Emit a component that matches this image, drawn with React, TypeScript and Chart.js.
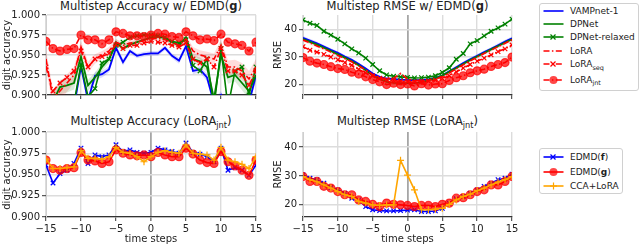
import React, { useEffect, useRef } from "react";
import { Chart, registerables } from "chart.js";

Chart.register(...registerables);

const FONT = "'DejaVu Sans', sans-serif";

const steps = [-15, -14, -13, -12, -11, -10, -9, -8, -7, -6, -5, -4, -3, -2, -1, 0, 1, 2, 3, 4, 5, 6, 7, 8, 9, 10, 11, 12, 13, 14, 15];
const xTicks = [-15, -10, -5, 0, 5, 10, 15];
const accTicks = [0.9, 0.925, 0.95, 0.975, 1.0];
const rmseTicks = [20, 30, 40];

// Panel 1: Multistep Accuracy w/ EDMD(g)
const vampAcc = [0.86, 0.86, 0.87, 0.87, 0.885, 0.936, 0.893, 0.924, 0.926, 0.932, 0.959, 0.941, 0.955, 0.949, 0.951, 0.952, 0.952, 0.959, 0.949, 0.943, 0.961, 0.93, 0.932, 0.922, 0.89, 0.9, 0.88, 0.87, 0.87, 0.89, 0.925];
const vampAccSpread = [0.006, 0.006, 0.006, 0.006, 0.006, 0.005, 0.005, 0.005, 0.004, 0.004, 0.004, 0.004, 0.003, 0.003, 0.003, 0.003, 0.003, 0.003, 0.003, 0.004, 0.004, 0.004, 0.004, 0.005, 0.005, 0.005, 0.005, 0.006, 0.006, 0.006, 0.006];
const dpAcc = [0.885, 0.892, 0.91, 0.912, 0.915, 0.948, 0.912, 0.922, 0.935, 0.945, 0.966, 0.958, 0.963, 0.966, 0.969, 0.972, 0.973, 0.971, 0.966, 0.962, 0.972, 0.945, 0.942, 0.935, 0.895, 0.95, 0.922, 0.925, 0.915, 0.905, 0.925];
const dpAccSpread = [0.01, 0.01, 0.009, 0.009, 0.008, 0.007, 0.007, 0.006, 0.005, 0.005, 0.004, 0.004, 0.003, 0.003, 0.003, 0.003, 0.003, 0.003, 0.003, 0.004, 0.004, 0.005, 0.005, 0.006, 0.007, 0.007, 0.008, 0.008, 0.009, 0.01, 0.01];
const dprAcc = [0.875, 0.868, 0.87, 0.875, 0.89, 0.938, 0.898, 0.908, 0.94, 0.945, 0.962, 0.966, 0.972, 0.974, 0.975, 0.975, 0.974, 0.972, 0.967, 0.965, 0.969, 0.937, 0.93, 0.945, 0.885, 0.958, 0.885, 0.93, 0.935, 0.9, 0.935];
const loraAcc = [0.945, 0.895, 0.905, 0.915, 0.925, 0.96, 0.935, 0.945, 0.95, 0.955, 0.966, 0.962, 0.965, 0.966, 0.968, 0.97, 0.971, 0.969, 0.966, 0.962, 0.97, 0.955, 0.95, 0.948, 0.945, 0.962, 0.935, 0.935, 0.93, 0.92, 0.935];
const loraAccSpread = [0.012, 0.012, 0.012, 0.011, 0.01, 0.008, 0.007, 0.006, 0.005, 0.005, 0.004, 0.004, 0.003, 0.003, 0.003, 0.003, 0.003, 0.003, 0.003, 0.004, 0.004, 0.005, 0.006, 0.006, 0.007, 0.007, 0.008, 0.009, 0.01, 0.01, 0.01];
const loraSeqAcc = [0.935, 0.905, 0.915, 0.922, 0.93, 0.955, 0.935, 0.945, 0.948, 0.952, 0.963, 0.958, 0.962, 0.962, 0.965, 0.967, 0.966, 0.965, 0.962, 0.96, 0.965, 0.945, 0.94, 0.945, 0.935, 0.958, 0.93, 0.93, 0.925, 0.912, 0.93];
const loraJntAcc = [0.967, 0.958, 0.955, 0.957, 0.958, 0.975, 0.969, 0.969, 0.964, 0.969, 0.979, 0.977, 0.974, 0.974, 0.973, 0.975, 0.977, 0.976, 0.973, 0.972, 0.979, 0.974, 0.969, 0.97, 0.968, 0.976, 0.966, 0.964, 0.962, 0.955, 0.966];

// Panel 2: Multistep RMSE w/ EDMD(g)
const vampRmse = [37.0, 36.0, 35.0, 33.8, 32.6, 31.5, 30.2, 29.0, 27.5, 25.8, 24.0, 22.8, 22.2, 22.0, 21.8, 21.6, 21.6, 21.7, 21.9, 22.4, 23.3, 24.8, 26.3, 27.8, 29.2, 30.5, 31.8, 33.0, 34.3, 35.6, 36.8];
const vampRmseSpread = [0.7, 0.7, 0.7, 0.6, 0.6, 0.6, 0.6, 0.5, 0.5, 0.5, 0.5, 0.4, 0.4, 0.4, 0.4, 0.4, 0.4, 0.4, 0.4, 0.4, 0.5, 0.5, 0.5, 0.5, 0.6, 0.6, 0.6, 0.6, 0.7, 0.7, 0.7];
const dpRmse = [36.5, 35.5, 34.5, 33.4, 32.2, 31.0, 29.8, 28.5, 27.0, 25.2, 23.3, 22.0, 21.0, 20.6, 20.5, 20.5, 20.5, 20.8, 21.5, 22.3, 23.3, 24.6, 26.0, 27.5, 28.9, 30.2, 31.5, 32.8, 34.0, 35.3, 36.5];
const dpRmseSpread = [0.6, 0.6, 0.6, 0.6, 0.5, 0.5, 0.5, 0.5, 0.5, 0.6, 0.7, 0.8, 0.8, 0.8, 0.8, 0.8, 0.8, 0.8, 0.8, 0.7, 0.6, 0.5, 0.5, 0.5, 0.5, 0.5, 0.5, 0.6, 0.6, 0.6, 0.6];
const dprRmse = [43.5, 42.3, 41.5, 39.4, 38.0, 36.5, 34.8, 33.0, 31.5, 29.6, 27.3, 25.0, 23.5, 23.0, 22.8, 22.6, 22.4, 22.5, 22.7, 23.2, 24.4, 26.1, 29.2, 31.3, 34.8, 36.0, 37.7, 39.4, 40.6, 42.0, 43.8];
const loraRmse = [36.2, 35.2, 34.0, 33.0, 31.8, 30.6, 29.5, 28.3, 26.8, 25.3, 23.7, 22.6, 22.0, 22.3, 24.0, 22.0, 21.5, 21.4, 21.6, 22.0, 22.8, 24.2, 25.8, 27.2, 28.6, 30.0, 31.3, 32.5, 33.8, 35.0, 36.3];
const loraRmseSpread = [0.6, 0.6, 0.6, 0.5, 0.5, 0.5, 0.5, 0.5, 0.5, 0.5, 0.5, 0.5, 0.5, 0.5, 0.6, 0.5, 0.5, 0.5, 0.5, 0.5, 0.5, 0.5, 0.5, 0.5, 0.5, 0.5, 0.5, 0.5, 0.6, 0.6, 0.6];
const loraSeqRmse = [33.8, 32.5, 31.8, 31.0, 30.0, 29.0, 28.0, 27.0, 25.5, 24.3, 23.2, 22.3, 21.8, 21.4, 21.2, 21.0, 20.9, 21.0, 21.2, 21.6, 22.2, 23.2, 24.6, 26.0, 27.3, 28.5, 29.6, 30.8, 32.0, 33.0, 34.4];
const loraJntRmse = [29.8, 28.5, 27.8, 27.3, 26.5, 25.8, 25.5, 24.5, 23.8, 22.8, 21.8, 21.0, 20.0, 20.5, 20.0, 20.2, 19.5, 20.3, 19.8, 20.2, 20.3, 21.5, 22.5, 23.2, 24.3, 25.0, 25.6, 26.6, 27.3, 28.0, 30.0];

// Panel 3: Multistep Accuracy (LoRA_jnt)
const edmdFAcc = [0.961, 0.94, 0.951, 0.955, 0.963, 0.981, 0.963, 0.973, 0.971, 0.973, 0.985, 0.977, 0.979, 0.976, 0.975, 0.976, 0.981, 0.979, 0.977, 0.975, 0.987, 0.976, 0.974, 0.971, 0.965, 0.981, 0.955, 0.958, 0.955, 0.949, 0.961];
const edmdGAcc = [0.967, 0.957, 0.955, 0.957, 0.958, 0.976, 0.967, 0.966, 0.963, 0.965, 0.979, 0.975, 0.973, 0.972, 0.973, 0.971, 0.976, 0.973, 0.971, 0.971, 0.981, 0.974, 0.967, 0.964, 0.963, 0.977, 0.965, 0.96, 0.955, 0.949, 0.967];
const ccaAcc = [0.968, 0.957, 0.957, 0.958, 0.959, 0.978, 0.969, 0.969, 0.968, 0.971, 0.982, 0.976, 0.975, 0.971, 0.965, 0.971, 0.976, 0.978, 0.976, 0.975, 0.985, 0.975, 0.974, 0.973, 0.967, 0.982, 0.967, 0.965, 0.962, 0.957, 0.971];

// Panel 4: Multistep RMSE (LoRA_jnt)
const edmdFRmse = [30.4, 29.2, 28.7, 27.5, 26.0, 25.2, 24.0, 22.3, 21.7, 19.4, 18.3, 18.0, 17.9, 17.9, 18.0, 18.2, 18.3, 17.7, 17.7, 17.9, 18.8, 20.6, 22.1, 22.9, 24.0, 25.2, 26.4, 27.5, 28.7, 29.2, 30.6];
const edmdGRmse = [29.8, 28.1, 28.1, 26.4, 25.8, 24.6, 23.5, 23.5, 21.7, 21.2, 20.2, 19.4, 20.6, 20.2, 20.0, 19.8, 19.4, 19.8, 19.8, 19.4, 20.2, 20.6, 22.3, 22.5, 23.5, 24.6, 25.2, 26.9, 26.9, 28.1, 29.8];
const ccaRmse = [29.8, 28.7, 28.0, 26.9, 25.8, 24.6, 23.5, 22.9, 21.2, 20.6, 20.0, 19.8, 20.0, 20.0, 35.4, 30.3, 25.2, 18.3, 18.3, 18.5, 18.8, 20.2, 21.7, 22.9, 23.7, 24.9, 25.8, 26.9, 27.9, 28.7, 29.8];

const BLUE = "#0000ff";
const GREEN = "#008000";
const RED = "#ff0000";
const ORANGE = "#ffa500";
const RED_A = "rgba(255,0,0,0.72)";
const DASHDOT = [6, 2.4, 1.5, 2.4];

const pts = (vals: number[]) => steps.map((t, i) => ({ x: t, y: vals[i] }));

type LineSpec = {
  data: number[];
  color: string;
  dash?: number[];
  point?: string;
  radius?: number;
  fill?: string;
  width?: number;
};

function lineDs(s: LineSpec): any {
  return {
    data: pts(s.data),
    borderColor: s.color,
    borderWidth: s.width ?? 1.6,
    borderDash: s.dash ?? [],
    pointStyle: s.point ?? "circle",
    pointRadius: s.point ? s.radius ?? 3.2 : 0,
    pointBorderWidth: 1.2,
    pointBackgroundColor: s.fill ?? s.color,
    pointBorderColor: s.fill ?? s.color,
    tension: 0,
    fill: false,
    clip: 0,
  };
}

function bandDs(mean: number[], spread: number[], color: string): any[] {
  const hi = mean.map((v, i) => v + spread[i]);
  const lo = mean.map((v, i) => v - spread[i]);
  return [
    { data: pts(hi), borderWidth: 0, pointRadius: 0, fill: "+1", backgroundColor: color, clip: 0 },
    { data: pts(lo), borderWidth: 0, pointRadius: 0, fill: false, clip: 0 },
  ];
}

type Geo = { L: number; T: number; R: number; B: number; yW: number; xH: number };
const PT = 8;
const PR = 10;

const fmtX = (v: number) => (v < 0 ? "\u2212" + Math.abs(v) : String(v));

function Panel(props: {
  geo: Geo;
  datasets: any[];
  yMin: number;
  yMax: number;
  yTicks: number[];
  yFmt: (v: number) => string;
  yTitle: string;
  xLabels: boolean;
}) {
  const ref = useRef<HTMLCanvasElement | null>(null);
  const { geo } = props;
  const W = geo.yW + (geo.R - geo.L) + PR;
  const H = PT + (geo.B - geo.T) + geo.xH;
  useEffect(() => {
    if (!ref.current) return;
    const ds = props.datasets.map((d, i) => ({ ...d, order: props.datasets.length - i }));
    const chart = new Chart(ref.current, {
      type: "line",
      data: { datasets: ds },
      options: {
        animation: false,
        responsive: false,
        maintainAspectRatio: false,
        devicePixelRatio: 1,
        events: [],
        layout: { padding: { top: PT, right: PR, left: 0, bottom: 0 } },
        plugins: { legend: { display: false }, tooltip: { enabled: false }, title: { display: false } },
        scales: {
          x: {
            type: "linear",
            min: -15,
            max: 15,
            afterBuildTicks: (s: any) => {
              s.ticks = xTicks.map((v) => ({ value: v }));
            },
            afterFit: (s: any) => {
              s.height = geo.xH;
            },
            grid: {
              color: (c: any) => (c.tick && c.tick.value === 0 ? "#a6a6a6" : "#dcdcdc"),
              lineWidth: (c: any) => (c.tick && c.tick.value === 0 ? 1.8 : 1.4),
              tickLength: 4,
              tickColor: "#333",
              tickWidth: 1,
            },
            border: { color: "#333", width: 1.2 },
            ticks: {
              display: props.xLabels,
              font: { family: FONT, size: 10 },
              color: "#222",
              padding: 2,
              maxRotation: 0,
              autoSkip: false,
              callback: (v: any) => fmtX(Number(v)),
            },
            title: {
              display: props.xLabels,
              text: "time steps",
              font: { family: FONT, size: 10 },
              color: "#222",
              padding: { top: 0, bottom: 0 },
            },
          },
          y: {
            type: "linear",
            min: props.yMin,
            max: props.yMax,
            afterBuildTicks: (s: any) => {
              s.ticks = props.yTicks.map((v) => ({ value: v }));
            },
            afterFit: (s: any) => {
              s.width = geo.yW;
            },
            grid: { color: "#dcdcdc", lineWidth: 1.4, tickLength: 4, tickColor: "#333", tickWidth: 1 },
            border: { color: "#cfcfcf", width: 1 },
            ticks: {
              font: { family: FONT, size: 10 },
              color: "#222",
              padding: 2,
              autoSkip: false,
              callback: (v: any) => props.yFmt(Number(v)),
            },
            title: {
              display: true,
              text: props.yTitle,
              font: { family: FONT, size: 10 },
              color: "#222",
              padding: { top: 0, bottom: 0 },
            },
          },
        },
      } as any,
    });
    return () => chart.destroy();
  }, []);
  return (
    <canvas
      ref={ref}
      width={W}
      height={H}
      style={{ position: "absolute", left: geo.L - geo.yW, top: geo.T - PT, width: W, height: H }}
    />
  );
}

const Sub = ({ children }: { children: any }) => (
  <span style={{ fontSize: "0.72em", position: "relative", top: "0.38em" }}>{children}</span>
);

function Handle({ color, dash, marker }: { color: string; dash?: string; marker?: string }) {
  return (
    <svg width={21} height={12} style={{ position: "absolute", left: 3, top: 0 }}>
      <line x1={0.5} y1={6} x2={20.5} y2={6} stroke={color} strokeWidth={1.6} strokeDasharray={dash} />
      {marker === "x" && (
        <g stroke={color} strokeWidth={1.2}>
          <line x1={7.5} y1={3.5} x2={12.5} y2={8.5} />
          <line x1={7.5} y1={8.5} x2={12.5} y2={3.5} />
        </g>
      )}
      {marker === "+" && (
        <g stroke={color} strokeWidth={1.2}>
          <line x1={10.5} y1={2.5} x2={10.5} y2={9.5} />
          <line x1={7} y1={6} x2={14} y2={6} />
        </g>
      )}
      {marker === "o" && <circle cx={10.5} cy={6} r={4} fill={RED_A} />}
    </svg>
  );
}

function LegendRow({ cy, color, dash, marker, children }: any) {
  return (
    <div style={{ position: "absolute", left: 0, top: cy - 6, height: 12, width: "100%" }}>
      <Handle color={color} dash={dash} marker={marker} />
      <div
        style={{
          position: "absolute",
          left: 30,
          top: 0,
          height: 12,
          lineHeight: "12px",
          fontSize: 9,
          fontFamily: FONT,
          color: "#222",
          whiteSpace: "nowrap",
        }}
      >
        {children}
      </div>
    </div>
  );
}

function Title({ L, R, top, children }: any) {
  return (
    <div
      style={{
        position: "absolute",
        left: L - 20,
        width: R - L + 40,
        top,
        textAlign: "center",
        fontFamily: FONT,
        fontSize: 11.5,
        lineHeight: "13px",
        color: "#222",
        whiteSpace: "nowrap",
      }}
    >
      {children}
    </div>
  );
}

const geo1: Geo = { L: 46, T: 15, R: 256, B: 99, yW: 45, xH: 4 };
const geo2: Geo = { L: 303, T: 15, R: 512, B: 99, yW: 31, xH: 4 };
const geo3: Geo = { L: 46, T: 132, R: 256, B: 217, yW: 45, xH: 28 };
const geo4: Geo = { L: 303, T: 132, R: 512, B: 217, yW: 31, xH: 28 };

const accFmt = (v: number) => v.toFixed(3);
const rmseFmt = (v: number) => String(Math.round(v));

export default function App() {
  const ds1 = [
    ...bandDs(vampAcc, vampAccSpread, "rgba(0,0,255,0.14)"),
    ...bandDs(dpAcc, dpAccSpread, "rgba(0,128,0,0.14)"),
    ...bandDs(loraAcc, loraAccSpread, "rgba(255,0,0,0.14)"),
    lineDs({ data: vampAcc, color: BLUE, width: 1.8 }),
    lineDs({ data: dpAcc, color: GREEN, width: 1.8 }),
    lineDs({ data: dprAcc, color: GREEN, point: "crossRot", radius: 3.2 }),
    lineDs({ data: loraAcc, color: RED, dash: DASHDOT }),
    lineDs({ data: loraSeqAcc, color: RED, dash: DASHDOT, point: "crossRot", radius: 3.2 }),
    lineDs({ data: loraJntAcc, color: RED, dash: DASHDOT, point: "circle", radius: 4, fill: RED_A }),
  ];
  const ds2 = [
    ...bandDs(vampRmse, vampRmseSpread, "rgba(0,0,255,0.12)"),
    ...bandDs(dpRmse, dpRmseSpread, "rgba(0,128,0,0.12)"),
    ...bandDs(loraRmse, loraRmseSpread, "rgba(255,0,0,0.12)"),
    lineDs({ data: vampRmse, color: BLUE, width: 1.8 }),
    lineDs({ data: dpRmse, color: GREEN, width: 1.8 }),
    lineDs({ data: dprRmse, color: GREEN, point: "crossRot", radius: 3.2 }),
    lineDs({ data: loraRmse, color: RED, dash: DASHDOT }),
    lineDs({ data: loraSeqRmse, color: RED, dash: DASHDOT, point: "crossRot", radius: 3.2 }),
    lineDs({ data: loraJntRmse, color: RED, dash: DASHDOT, point: "circle", radius: 4, fill: RED_A }),
  ];
  const ds3 = [
    lineDs({ data: edmdFAcc, color: BLUE, point: "crossRot", radius: 3.2 }),
    lineDs({ data: edmdGAcc, color: RED, point: "circle", radius: 4, fill: RED_A }),
    lineDs({ data: ccaAcc, color: ORANGE, point: "cross", radius: 3.5 }),
  ];
  const ds4 = [
    lineDs({ data: edmdFRmse, color: BLUE, point: "crossRot", radius: 3.2 }),
    lineDs({ data: edmdGRmse, color: RED, point: "circle", radius: 4, fill: RED_A }),
    lineDs({ data: ccaRmse, color: ORANGE, point: "cross", radius: 3.5 }),
  ];

  return (
    <div style={{ position: "absolute", left: 0, top: 0, width: 640, height: 245, background: "#fff", overflow: "hidden" }}>
      <Title L={geo1.L} R={geo1.R} top={-0.5}>
        Multistep Accuracy w/ EDMD(<b>g</b>)
      </Title>
      <Title L={geo2.L} R={geo2.R} top={-0.5}>
        Multistep RMSE w/ EDMD(<b>g</b>)
      </Title>
      <Title L={geo3.L} R={geo3.R} top={114.5}>
        Multistep Accuracy (LoRA<Sub>jnt</Sub>)
      </Title>
      <Title L={geo4.L} R={geo4.R} top={114.5}>
        Multistep RMSE (LoRA<Sub>jnt</Sub>)
      </Title>
      <Panel geo={geo1} datasets={ds1} yMin={0.9} yMax={1.0} yTicks={accTicks} yFmt={accFmt} yTitle="digit accuracy" xLabels={false} />
      <Panel geo={geo2} datasets={ds2} yMin={16.2} yMax={45.3} yTicks={rmseTicks} yFmt={rmseFmt} yTitle="RMSE" xLabels={false} />
      <Panel geo={geo3} datasets={ds3} yMin={0.9} yMax={1.0} yTicks={accTicks} yFmt={accFmt} yTitle="digit accuracy" xLabels={true} />
      <Panel geo={geo4} datasets={ds4} yMin={15.8} yMax={45.2} yTicks={rmseTicks} yFmt={rmseFmt} yTitle="RMSE" xLabels={true} />

      <div
        style={{
          position: "absolute",
          left: 539,
          top: 3,
          width: 100,
          height: 88,
          border: "1px solid #d0d0d0",
          borderRadius: 3,
          background: "rgba(255,255,255,0.85)",
          boxSizing: "border-box",
        }}
      >
        <LegendRow cy={7} color={BLUE}>VAMPnet-1</LegendRow>
        <LegendRow cy={20.3} color={GREEN}>DPNet</LegendRow>
        <LegendRow cy={32.7} color={GREEN} marker="x">DPNet-relaxed</LegendRow>
        <LegendRow cy={47} color={RED} dash="6 2.4 1.5 2.4">LoRA</LegendRow>
        <LegendRow cy={60.3} color={RED} dash="6 2.4 1.5 2.4" marker="x">
          LoRA<Sub>seq</Sub>
        </LegendRow>
        <LegendRow cy={75.5} color={RED} dash="6 2.4 1.5 2.4" marker="o">
          LoRA<Sub>jnt</Sub>
        </LegendRow>
      </div>

      <div
        style={{
          position: "absolute",
          left: 539,
          top: 148,
          width: 84,
          height: 46,
          border: "1px solid #d0d0d0",
          borderRadius: 3,
          background: "rgba(255,255,255,0.85)",
          boxSizing: "border-box",
        }}
      >
        <LegendRow cy={7.5} color={BLUE} marker="x">
          EDMD(<b>f</b>)
        </LegendRow>
        <LegendRow cy={22.5} color={RED} marker="o">
          EDMD(<b>g</b>)
        </LegendRow>
        <LegendRow cy={36.8} color={ORANGE} marker="+">
          CCA+LoRA
        </LegendRow>
      </div>
    </div>
  );
}
